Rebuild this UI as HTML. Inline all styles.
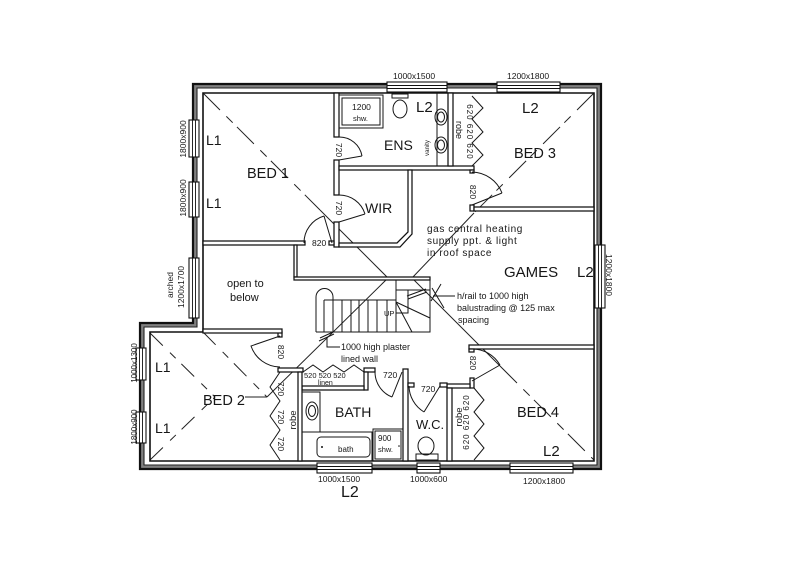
<!DOCTYPE html>
<html><head><meta charset="utf-8"><style>
html,body{margin:0;padding:0;background:#fff;width:800px;height:570px;overflow:hidden}
svg{display:block}
text{font-family:"Liberation Sans",sans-serif;fill:#161616}
.w{fill:#fff;stroke:#111;stroke-width:1.25}
.l{fill:none;stroke:#161616;stroke-width:1}
.d{fill:none;stroke:#222;stroke-width:1}
.win{fill:#fff;stroke:#111;stroke-width:1.1}
</style></head><body>
<svg width="800" height="570" viewBox="0 0 800 570" xmlns="http://www.w3.org/2000/svg">

<!-- hip lines (drawn first, under walls) -->
<g class="d">
<path d="M203,93 L320,210" stroke-dasharray="24 9 9 6"/>
<path d="M320,210 L388,278"/>
<path d="M594,93 L474,213" stroke-dasharray="24 9 9 6"/>
<path d="M474,213 L412,278"/>
<path d="M412,278 L500,366"/>
<path d="M500,366 L594,460" stroke-dasharray="24 9 9 6"/>
<path d="M388,278 L267,397"/>
<path d="M203,332 L267,397" stroke-dasharray="18 10 8 8"/>
<path d="M150,333 L215,397" stroke-dasharray="18 10 8 8"/>
<path d="M150,460 L215,397" stroke-dasharray="18 10 8 8"/>
<path d="M245,397 L267,397"/>
<path d="M388,278 L412,278"/>
</g>

<!-- outer walls -->
<path d="M193,84 H601 V469 H140 V323 H193 Z M197,88 V327 H144 V465 H597 V88 Z" fill="#808080" fill-rule="evenodd"/>
<path d="M197,88 V327 H144 V465 H597 V88 Z M203,93 V332 H150 V461 H594 V93 Z" fill="#fff" fill-rule="evenodd"/>
<path d="M193,84 H601 V469 H140 V323 H193 Z" fill="none" stroke="#111" stroke-width="2.2"/>
<path d="M197,88 H597 V465 H144 V327 H197 Z" fill="none" stroke="#222" stroke-width="1.1"/>
<path d="M203,93 H594 V461 H150 V332 H203 Z" fill="none" stroke="#111" stroke-width="1.6"/>

<!-- windows -->
<g>
<rect class="win" x="387" y="82" width="60" height="10"/>
<rect class="win" x="497" y="82" width="63" height="10"/>
<rect class="win" x="189" y="120" width="10" height="37"/>
<rect class="win" x="189" y="182" width="10" height="35"/>
<rect class="win" x="189" y="258" width="10" height="60"/>
<rect class="win" x="136" y="348" width="10" height="32"/>
<rect class="win" x="136" y="412" width="10" height="31"/>
<rect class="win" x="595" y="245" width="10" height="63"/>
<rect class="win" x="317" y="463" width="55" height="10"/>
<rect class="win" x="417" y="463" width="23" height="10"/>
<rect class="win" x="510" y="463" width="63" height="10"/>
</g>
<g stroke="#111" stroke-width="0.9">
<line x1="387" y1="85.5" x2="447" y2="85.5"/><line x1="387" y1="88.5" x2="447" y2="88.5"/>
<line x1="497" y1="85.5" x2="560" y2="85.5"/><line x1="497" y1="88.5" x2="560" y2="88.5"/>
<line x1="192.5" y1="120" x2="192.5" y2="157"/><line x1="195.5" y1="120" x2="195.5" y2="157"/>
<line x1="192.5" y1="182" x2="192.5" y2="217"/><line x1="195.5" y1="182" x2="195.5" y2="217"/>
<line x1="192.5" y1="258" x2="192.5" y2="318"/><line x1="195.5" y1="258" x2="195.5" y2="318"/>
<line x1="139.5" y1="348" x2="139.5" y2="380"/><line x1="142.5" y1="348" x2="142.5" y2="380"/>
<line x1="139.5" y1="412" x2="139.5" y2="443"/><line x1="142.5" y1="412" x2="142.5" y2="443"/>
<line x1="598.5" y1="245" x2="598.5" y2="308"/><line x1="601.5" y1="245" x2="601.5" y2="308"/>
<line x1="317" y1="466.5" x2="372" y2="466.5"/><line x1="317" y1="469.5" x2="372" y2="469.5"/>
<line x1="417" y1="466.5" x2="440" y2="466.5"/><line x1="417" y1="469.5" x2="440" y2="469.5"/>
<line x1="510" y1="466.5" x2="573" y2="466.5"/><line x1="510" y1="469.5" x2="573" y2="469.5"/>
</g>

<!-- interior walls -->
<g class="w">
<rect x="334" y="93" width="5" height="44"/>
<rect x="334" y="160" width="5" height="35"/>
<rect x="334" y="222" width="5" height="25"/>
<rect x="339" y="166" width="135" height="4"/>
<polygon points="408,170 412,170 412,234 400,247 339,247 339,243 397,243 408,232"/>
<rect x="203" y="241" width="102" height="4"/>
<rect x="329" y="241" width="5" height="4"/>
<rect x="448" y="93" width="5" height="73"/>
<rect x="470" y="170" width="4" height="3"/>
<rect x="470" y="205" width="4" height="6"/>
<rect x="474" y="207" width="120" height="4"/>
<rect x="469" y="345" width="125" height="4"/>
<rect x="469" y="349" width="5" height="3"/>
<rect x="470" y="378" width="4" height="10"/>
<rect x="447" y="384" width="23" height="4"/>
<rect x="447" y="388" width="5" height="73"/>
<rect x="403" y="369" width="5" height="92"/>
<rect x="408" y="383" width="6" height="4"/>
<rect x="440" y="383" width="7" height="4"/>
<rect x="278" y="368" width="25" height="4"/>
<rect x="364" y="368" width="11" height="4"/>
<rect x="364" y="372" width="4" height="18"/>
<rect x="302" y="386" width="62" height="4"/>
<rect x="298" y="372" width="4" height="89"/>
<rect x="278" y="332" width="4" height="5"/>
<rect x="203" y="329" width="79" height="4"/>
<rect x="294" y="245" width="3" height="32"/>
<rect x="294" y="277" width="136" height="3"/>
</g>

<!-- doors -->
<g class="l">
<path d="M339,160 L362,156 M339,137 A23,23 0 0 1 362,156"/>
<path d="M339,222 L365,214 M339,195 A27,27 0 0 1 365,214"/>
<path d="M332,243 L324,216 M304,243 A28,28 0 0 1 324,216"/>
<path d="M472,205 L502,193 M472,172 A33,33 0 0 1 502,193"/>
<path d="M472,381 L500,365 M472,349 A32,32 0 0 1 500,365"/>
<path d="M280,336 L251,346 A31,31 0 0 0 280,367"/>
<path d="M402,372 L392,397 M375,372 A27,27 0 0 0 392,397"/>
<path d="M440,386 L424,412 M409,386 A31,31 0 0 0 424,412"/>
<polyline points="303,372 313,365 323,372 333,365 344,372 354,365 364,372"/>
<polyline points="472,96 483,108 472,119 483,132 472,143 483,155 472,166"/>
<polyline points="474,388 484,400 474,412 484,424 474,436 484,448 474,460"/>
<polyline points="280,372 270,387 280,401 270,416 280,430 270,445 280,460"/>
</g>

<!-- fixtures -->
<g class="l">
<rect x="339" y="95" width="44" height="33"/>
<rect x="342" y="98" width="38" height="27"/>
<rect x="392" y="94" width="16" height="4"/>
<ellipse cx="400" cy="109" rx="7" ry="9"/>
<line x1="437" y1="93" x2="437" y2="166"/>
<ellipse cx="441" cy="117" rx="6" ry="8"/>
<ellipse cx="441" cy="117" rx="3.5" ry="5"/>
<ellipse cx="441" cy="145" rx="6" ry="8"/>
<ellipse cx="441" cy="145" rx="3.5" ry="5"/>
<rect x="302" y="392" width="18" height="40"/>
<ellipse cx="312" cy="411" rx="6" ry="9"/>
<ellipse cx="312" cy="411" rx="3.5" ry="5.5"/>
<rect x="302" y="432" width="70" height="29"/>
<rect x="317" y="437" width="53" height="20" rx="4"/>
<rect x="373" y="429" width="30" height="32"/>
<rect x="375" y="431" width="26" height="28"/>
<ellipse cx="426" cy="446" rx="8" ry="9"/>
<rect x="416" y="454" width="22" height="6"/>
</g>
<circle cx="322" cy="447" r="1" fill="#111"/>
<circle cx="399" cy="446" r="0.8" fill="#111"/>

<!-- stair -->
<g class="l">
<path d="M316,332 H430 V280"/>
<path d="M324,300 H396"/>
<path d="M324,300 V332 M333,300 V332 M342,300 V332 M351,300 V332 M359,300 V332 M368,300 V332 M377,300 V332 M387,300 V332 M396,280 V332"/>
<path d="M316,332 V297 A8.5,8.5 0 0 1 333,297 V300"/>
<path d="M396,290 H430"/>
<path d="M396,302 L430,318"/>
<path d="M396,302 L412,332"/>
<path d="M408,290 V313 H396"/>
<path d="M407,296 L426,289 M408,299 L427,292"/>
<path d="M433,296 H455"/>
<path d="M441,284 L431,301 M432,288 L444,308"/>
<path d="M319,341 L334,334 M320,338 L333,332"/>
<path d="M327,337 V347 H340"/>
</g>

<!-- labels -->
<g>
<text x="247" y="178" font-size="14.5">BED 1</text>
<text x="206" y="145" font-size="14">L1</text>
<text x="206" y="208" font-size="14">L1</text>
<text x="384" y="150" font-size="14">ENS</text>
<text x="416" y="112" font-size="15">L2</text>
<text x="352" y="110" font-size="8.5">1200</text>
<text x="353" y="121" font-size="7.5">shw.</text>
<text x="365" y="213" font-size="14">WIR</text>
<text x="312" y="246" font-size="8.5">820</text>
<text transform="translate(336,150) rotate(90)" font-size="8.5" text-anchor="middle">720</text>
<text transform="translate(336,208) rotate(90)" font-size="8.5" text-anchor="middle">720</text>
<text transform="translate(429,148) rotate(-90)" font-size="6" text-anchor="middle">vanity</text>
<text transform="translate(456,130) rotate(90)" font-size="9" text-anchor="middle">robe</text>
<text transform="translate(467,132) rotate(90)" font-size="8" text-anchor="middle" letter-spacing="1">620 620 620</text>
<text transform="translate(470,192) rotate(90)" font-size="8.5" text-anchor="middle">820</text>
<text x="522" y="113" font-size="15">L2</text>
<text x="514" y="158" font-size="14.5">BED 3</text>
<text x="427" y="232" font-size="10" letter-spacing="0.6">gas central heating</text>
<text x="427" y="244" font-size="10" letter-spacing="0.6">supply ppt. &amp; light</text>
<text x="427" y="256" font-size="10" letter-spacing="0.6">in roof space</text>
<text x="504" y="277" font-size="15">GAMES</text>
<text x="577" y="277" font-size="15">L2</text>
<text transform="translate(606,275) rotate(90)" font-size="8.5" text-anchor="middle">1200x1800</text>
<text x="457" y="299" font-size="9">h/rail to 1000 high</text>
<text x="457" y="311" font-size="9">balustrading @ 125 max</text>
<text x="458" y="323" font-size="9">spacing</text>
<text x="227" y="287" font-size="11">open to</text>
<text x="230" y="301" font-size="11">below</text>
<text transform="translate(173,285) rotate(-90)" font-size="8.5" text-anchor="middle">arched</text>
<text transform="translate(184,287) rotate(-90)" font-size="8.5" text-anchor="middle">1200x1700</text>
<text transform="translate(186,139) rotate(-90)" font-size="8.5" text-anchor="middle">1800x900</text>
<text transform="translate(186,198) rotate(-90)" font-size="8.5" text-anchor="middle">1800x900</text>
<text x="384" y="316" font-size="7.5">UP</text>
<text x="341" y="350" font-size="9">1000 high plaster</text>
<text x="341" y="362" font-size="9">lined wall</text>
<text transform="translate(278,352) rotate(90)" font-size="8.5" text-anchor="middle">820</text>
<text x="155" y="372" font-size="14">L1</text>
<text x="155" y="433" font-size="14">L1</text>
<text x="203" y="405" font-size="14.5">BED 2</text>
<text transform="translate(278,389) rotate(90)" font-size="8.5" text-anchor="middle">720</text>
<text transform="translate(278,417) rotate(90)" font-size="8.5" text-anchor="middle">720</text>
<text transform="translate(278,444) rotate(90)" font-size="8.5" text-anchor="middle">720</text>
<text transform="translate(296,420) rotate(-90)" font-size="9.5" text-anchor="middle">robe</text>
<text x="304" y="378" font-size="7.5">520 520 520</text>
<text x="318" y="385" font-size="7">linen</text>
<text x="383" y="378" font-size="8.5">720</text>
<text x="421" y="392" font-size="8.5">720</text>
<text x="335" y="417" font-size="14">BATH</text>
<text x="338" y="452" font-size="8">bath</text>
<text x="378" y="441" font-size="8">900</text>
<text x="378" y="452" font-size="7.5">shw.</text>
<text x="416" y="429" font-size="13">W.C.</text>
<text transform="translate(462,417) rotate(-90)" font-size="9.5" text-anchor="middle">robe</text>
<text transform="translate(469,422) rotate(-90)" font-size="8" text-anchor="middle" letter-spacing="1">620 620 620</text>
<text transform="translate(470,363) rotate(90)" font-size="8.5" text-anchor="middle">820</text>
<text x="517" y="417" font-size="14.5">BED 4</text>
<text x="543" y="456" font-size="15">L2</text>
<text x="318" y="482" font-size="8.5">1000x1500</text>
<text x="341" y="497" font-size="16">L2</text>
<text x="410" y="482" font-size="8.5">1000x600</text>
<text x="523" y="484" font-size="8.5">1200x1800</text>
<text x="393" y="79" font-size="8.5">1000x1500</text>
<text x="507" y="79" font-size="8.5">1200x1800</text>
<text transform="translate(137,363) rotate(-90)" font-size="8" text-anchor="middle">1000x1300</text>
<text transform="translate(137,427) rotate(-90)" font-size="8" text-anchor="middle">1800x900</text>
</g>
</svg>
</body></html>
